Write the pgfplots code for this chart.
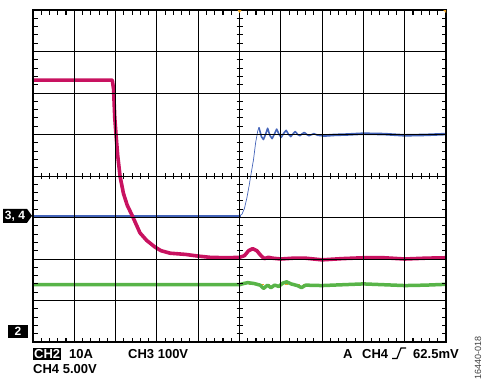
\documentclass[border=0pt]{standalone}
\usepackage{pgfplots}
\pgfplotsset{compat=1.18}
\usepackage{fontspec}
\setmainfont{Liberation Sans}
\definecolor{tred}{RGB}{200,18,96}
\definecolor{tblue}{RGB}{68,100,185}
\definecolor{tgreen}{RGB}{88,180,72}
\definecolor{torange}{RGB}{235,160,30}
\begin{document}
\begin{tikzpicture}[x=1pt,y=1pt]
\useasboundingbox (0pt,0pt) rectangle (489pt,384pt);
\begin{axis}[at={(33pt,42pt)}, anchor=south west, scale only axis, width=413pt, height=332pt,
 xmin=0,xmax=10,ymin=0,ymax=8, xtick={0,...,10}, ytick={0,...,8}, xticklabels={}, yticklabels={},
 minor x tick num=4, minor y tick num=4, grid=major, major grid style={black, line width=1pt},
 tick align=inside, major tick length=0pt, minor tick length=4.5pt,
 minor tick style={black,line width=1.1pt},
 axis line style={black,line width=1.8pt}, axis on top]
% orange trigger level
\addplot[torange, dashed, line width=0.6pt] coordinates {(0,1.38) (10,1.38)};
% CH4 green
\addplot[tgreen, line width=3.5pt, line join=round] coordinates {
(0,1.38) (5.0,1.38) (5.1,1.41) (5.2,1.43) (5.35,1.41) (5.5,1.37) (5.58,1.29) (5.68,1.37)
(5.76,1.31) (5.85,1.37) (5.95,1.34) (6.05,1.42) (6.14,1.45) (6.25,1.40) (6.4,1.36) (6.5,1.31)
(6.6,1.37) (7.0,1.36) (7.5,1.38) (8.0,1.40) (8.5,1.38) (9.0,1.36) (9.5,1.37) (10,1.39)};
% CH3 blue
\addplot[tblue, line width=2.4pt] coordinates {(0,3.04) (5.03,3.04)};
\addplot[tblue, line width=0.7pt] coordinates {
(5.0,3.04) (5.06,3.08) (5.12,3.22) (5.18,3.48) (5.23,3.75) (5.28,4.05) (5.34,4.4) (5.39,4.8) (5.44,5.08) (5.47,5.17)};
\addplot[tblue, line width=1.6pt, line join=round] coordinates {
(5.47,5.17) (5.53,4.95) (5.58,4.88) (5.63,5.0) (5.68,5.15) (5.74,4.97) (5.79,4.9) (5.85,5.02)
(5.9,5.13) (5.96,5.0) (6.01,4.93) (6.07,5.03) (6.13,5.1) (6.19,5.0) (6.24,4.95) (6.3,5.02)
(6.35,5.07) (6.41,5.0) (6.46,4.97) (6.52,5.02) (6.57,5.05) (6.63,5.0) (6.68,4.97) (6.8,5.02)
(6.9,4.98) (7.0,4.97)};
\addplot[tblue, line width=2.6pt] coordinates {
(7.0,4.97) (7.3,4.99) (7.6,5.0) (8.0,5.02) (8.5,5.01) (9.0,4.98) (9.5,4.99) (10,5.01)};
% CH2 red
\addplot[tred, line width=3.6pt, line join=round] coordinates {
(0,6.31) (1.92,6.31) (1.95,6.1) (1.98,5.4) (2.01,5.0) (2.05,4.5) (2.11,3.98) (2.19,3.58)
(2.28,3.3) (2.40,3.05) (2.5,2.83) (2.59,2.63) (2.75,2.45) (2.95,2.29) (3.1,2.2) (3.32,2.14)
(3.7,2.11) (4.0,2.07) (4.29,2.04) (4.7,2.03) (5.0,2.04) (5.12,2.08) (5.22,2.2) (5.32,2.25)
(5.42,2.2) (5.52,2.08) (5.6,2.01) (5.7,2.04) (5.8,2.02) (6.0,2.0) (6.3,2.02) (6.6,2.02)
(7.0,1.98) (7.5,2.01) (8.0,2.03) (8.5,2.03) (9.0,2.0) (9.5,2.02) (10,2.03)};
% centre cross ticks
\pgfplotsinvokeforeach{1,...,49}{\draw[black,line width=1pt] (axis cs:{#1*0.2},4) ++(0,-3pt) -- ++(0,6pt);}
\pgfplotsinvokeforeach{1,...,39}{\draw[black,line width=1pt] (axis cs:5,{#1*0.2}) ++(-3pt,0) -- ++(6pt,0);}
\coordinate (m34) at (axis cs:0,3.04);
\coordinate (m2) at (axis cs:0,0.25);
\coordinate (trig) at (axis cs:5,8);
\coordinate (trr) at (axis cs:10,8);
\end{axis}
% channel markers
\fill[black] (m34) ++(-1pt,0pt) -- ++(-5pt,7pt) -- ++(-24pt,0pt) -- ++(0pt,-14pt) -- ++(24pt,0pt) -- cycle;
\node[text=white, font=\bfseries\fontsize{12}{12}\selectfont, inner sep=0pt] at ([xshift=-18pt]m34) {3, 4};
\fill[black] ([xshift=-25pt,yshift=-6.5pt]m2) rectangle ([xshift=-5pt,yshift=6.5pt]m2);
\node[text=white, font=\bfseries\fontsize{12}{12}\selectfont, inner sep=0pt] at ([xshift=-15pt]m2) {2};
% trigger markers
\fill[torange] ([xshift=-2pt]trig) -- ([xshift=2pt]trig) -- ([yshift=-3pt]trig) -- cycle;
\fill[torange] ([xshift=-3pt]trr) -- (trr) -- ([yshift=-3pt]trr) -- cycle;
% bottom text
\begin{scope}[every node/.style={font=\bfseries\fontsize{13}{13}\selectfont, anchor=base west, inner sep=0pt}]
\node[fill=black, text=white, inner sep=1pt] at (33pt,25.5pt) {CH2};
\node at (69pt,25.5pt) {10A};
\node at (128pt,25.5pt) {CH3 100V};
\node at (343pt,25.5pt) {A};
\node at (362pt,25.5pt) {CH4};
\node at (413pt,25.5pt) {62.5mV};
\node at (33pt,11pt) {CH4 5.00V};
\end{scope}
\draw[black, line width=1.2pt] (392pt,25.5pt) -- (397pt,25.5pt) -- (401pt,36pt) -- (406pt,36pt);
\node[rotate=90, font=\fontsize{9}{9}\selectfont, text=black!75, inner sep=0pt] at (478pt,26pt) {16440-018};
\end{tikzpicture}
\end{document}
